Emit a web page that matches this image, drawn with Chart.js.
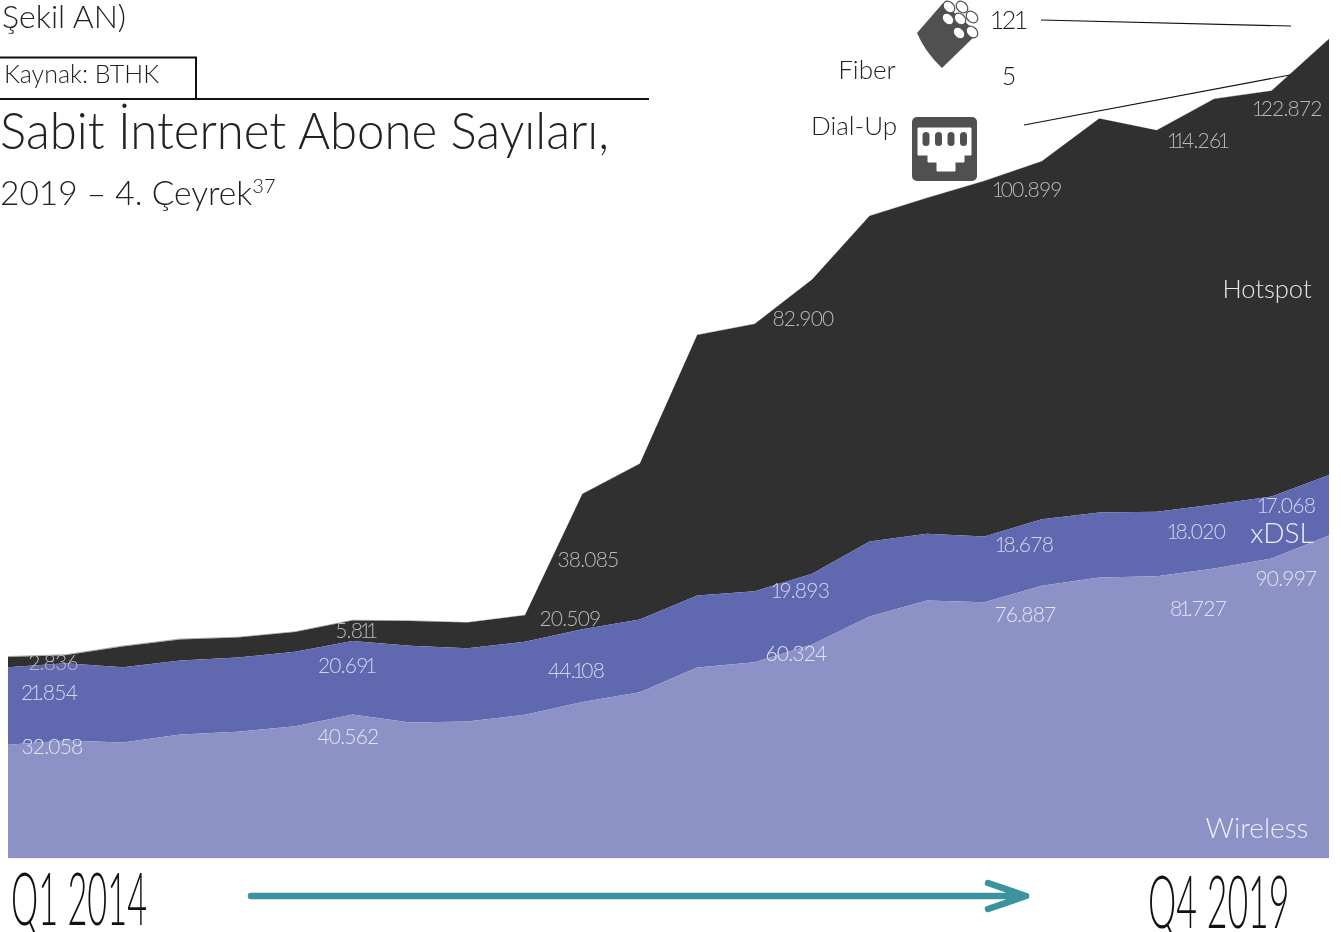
<!DOCTYPE html>
<html lang="tr">
<head>
<meta charset="utf-8">
<title>Sabit İnternet Abone Sayıları</title>
<script src="https://cdn.jsdelivr.net/npm/chart.js@4"></script>
<style>
  html, body { margin: 0; padding: 0; background: #fff; overflow: hidden; }
  #page { position: relative; width: 1341px; height: 932px; overflow: hidden; font-family: Lato, sans-serif; font-weight: 300; color: #222; }
  #area-chart { position: absolute; left: 0; top: 0; }
  #overlay { position: absolute; left: 0; top: 0; }
  .t { position: absolute; white-space: nowrap; line-height: 1; transform-origin: 0 0; }
  .c { transform: translate(-50%, -50%); }
  .period { font-size: 72px; color: #111; }
  .one { margin: 0 -2.5px; }
  sup { font-size: 60%; line-height: 0; }
</style>
</head>
<body>
<div id="page">
  <canvas id="area-chart" width="1341" height="932"></canvas>
  <svg id="overlay" width="1341" height="932" viewBox="0 0 1341 932">
    <!-- header rules -->
    <path d="M0 57.5H196V99M0 99H649" fill="none" stroke="#111" stroke-width="2"/>
    <!-- leader lines -->
    <path d="M1041 20L1291 26M1024 125L1290 75" fill="none" stroke="#111" stroke-width="1.2"/>
    <!-- fiber icon -->
    <path d="M917 33L943 3L978 33L942 68Q925 52 917 33Z" fill="#505050"/>
    <g fill="#fff" stroke="#505050" stroke-width="1.2">
      <ellipse cx="949" cy="7" rx="6.5" ry="5" transform="rotate(45 949 7)"/>
      <ellipse cx="962" cy="7" rx="6.5" ry="5" transform="rotate(45 962 7)"/>
      <ellipse cx="948" cy="19" rx="6.5" ry="5" transform="rotate(45 948 19)"/>
      <ellipse cx="960" cy="19" rx="6.5" ry="5" transform="rotate(45 960 19)"/>
      <ellipse cx="972" cy="17" rx="6.5" ry="5" transform="rotate(45 972 17)"/>
      <ellipse cx="959" cy="33" rx="6.5" ry="5" transform="rotate(45 959 33)"/>
      <ellipse cx="972" cy="32" rx="6.5" ry="5" transform="rotate(45 972 32)"/>
    </g>
    <!-- ethernet icon -->
    <rect x="912" y="117" width="65" height="64" rx="5" fill="#505050"/>
    <path d="M918 128H971V155H964V162H955V171H937V162H928V155H918Z" fill="#fff" stroke="#fff" stroke-linejoin="round"/>
    <g fill="#505050">
      <rect x="922.5" y="132" width="7" height="14" rx="3.5"/>
      <rect x="935" y="132" width="7" height="14" rx="3.5"/>
      <rect x="947.5" y="132" width="7" height="14" rx="3.5"/>
      <rect x="960" y="132" width="7" height="14" rx="3.5"/>
    </g>
    <!-- time arrow -->
    <path d="M251 896H1026M988 883L1026 896L988 909" fill="none" stroke="#3b939e" stroke-width="6.5" stroke-linecap="round" stroke-linejoin="round"/>
  </svg>
  <div id="texts"></div>
</div>
<script>
const quarters = [
  'Q1 2014', 'Q2 2014', 'Q3 2014', 'Q4 2014',
  'Q1 2015', 'Q2 2015', 'Q3 2015', 'Q4 2015',
  'Q1 2016', 'Q2 2016', 'Q3 2016', 'Q4 2016',
  'Q1 2017', 'Q2 2017', 'Q3 2017', 'Q4 2017',
  'Q1 2018', 'Q2 2018', 'Q3 2018', 'Q4 2018',
  'Q1 2019', 'Q2 2019', 'Q3 2019', 'Q4 2019'
];
const wireless = [32058, 33250, 32690, 34940, 35700, 37280, 40562, 38320, 38600, 40490, 44108, 46860, 53820, 55310, 60324, 68190, 72700, 72220, 76887, 79180, 79540, 81727, 84530, 90997];
const xdsl = [21854, 21780, 21210, 20850, 20940, 20960, 20691, 21610, 20660, 20570, 20509, 20480, 20280, 20010, 19893, 21130, 18790, 18510, 18678, 18310, 18150, 18020, 17470, 17068];
const hotspot = [2836, 2240, 5850, 5950, 5600, 5600, 5811, 7000, 7250, 7500, 38085, 43900, 73400, 75300, 82900, 91750, 94650, 100200, 100899, 111000, 107500, 114261, 114300, 122872];
const fiber = [0, 0, 0, 0, 0, 10, 15, 20, 25, 30, 35, 40, 45, 50, 55, 60, 70, 75, 85, 90, 100, 105, 115, 121];
const dialUp = [280, 260, 250, 220, 210, 190, 170, 150, 130, 110, 95, 80, 70, 60, 45, 40, 30, 25, 20, 15, 12, 10, 8, 5];

// [series, quarter index, centre x, centre y, colour]
const onDark = '#b9b9b9';
const onBlue = '#d3d6ee';
const onLight = '#e2e4f3';
const valueLabels = [
  [hotspot, 0, 53, 661, onDark], [xdsl, 0, 49, 691, onBlue], [wireless, 0, 52, 745, onLight],
  [hotspot, 6, 355, 629, onDark], [xdsl, 6, 346, 664, onBlue], [wireless, 6, 348, 735, onLight],
  [hotspot, 10, 588, 558, onDark], [xdsl, 10, 570, 617, onDark], [wireless, 10, 576, 669, onBlue],
  [hotspot, 14, 803, 317, onDark], [xdsl, 14, 801, 589, onBlue], [wireless, 14, 796, 652, onLight],
  [hotspot, 18, 1028, 188, onDark], [xdsl, 18, 1025, 543, onBlue], [wireless, 18, 1025, 613, onLight],
  [hotspot, 21, 1198, 139, onDark], [xdsl, 21, 1197, 530, onBlue], [wireless, 21, 1198, 607, onLight],
  [hotspot, 23, 1288, 107, onDark], [xdsl, 23, 1287, 504, onBlue], [wireless, 23, 1286, 577, onLight]
];

function formatValue(v) {
  return String(v).replace(/\B(?=(\d{3})+$)/g, '.');
}

// the reference's "1" is much narrower than the other digits
function tightOnes(text) {
  return text.replace(/1/g, '<span class="one">1</span>');
}

function addText(html, css, cls) {
  const el = document.createElement('div');
  el.className = 't ' + (cls || '');
  el.style.cssText = css;
  el.innerHTML = html;
  document.getElementById('texts').appendChild(el);
}

function displayTexts() {
  valueLabels.forEach(([series, i, x, y, colour]) => {
    addText(tightOnes(formatValue(series[i])), `left:${x}px;top:${y}px;font-size:21px;letter-spacing:-0.8px;color:${colour}`, 'c');
  });

  addText('Şekil AN)', 'left:2px;top:0;font-size:32px');
  addText('Kaynak: BTHK', 'left:4px;top:61px;font-size:25px');
  addText('Sabit İnternet Abone Sayıları,', 'left:0;top:103px;font-size:52px;transform:scaleX(0.945)');
  addText('2019 – 4. Çeyrek<sup>37</sup>', 'left:0;top:176px;font-size:33.5px');

  addText(tightOnes('121'), 'left:1009px;top:19px;font-size:25px', 'c');
  addText('5', 'left:1009px;top:75px;font-size:25px', 'c');
  addText('Fiber', 'left:867px;top:69px;font-size:26px', 'c');
  addText('Dial-Up', 'left:854px;top:125px;font-size:26px', 'c');

  addText('Hotspot', 'left:1267px;top:289px;font-size:25.5px;color:#e8e8e8', 'c');
  addText('xDSL', 'left:1282px;top:532px;font-size:28px;color:#eef0fa', 'c');
  addText('Wireless', 'left:1257px;top:827px;font-size:28px;color:#eef0fa', 'c');

  addText(quarters[0], 'left:11px;top:861px;transform:scaleX(0.477)', 'period');
  addText(quarters[23], 'left:1148px;top:864px;transform:scaleX(0.496)', 'period');
}

function displayChart() {
  const series = [
    { label: 'Wireless', data: wireless, backgroundColor: '#8c91c6', fill: 'origin' },
    { label: 'xDSL', data: xdsl, backgroundColor: '#6068b0', fill: '-1' },
    { label: 'Hotspot', data: hotspot, backgroundColor: '#303030', fill: '-1' },
    { label: 'Fiber', data: fiber, backgroundColor: '#999999', fill: '-1' },
    { label: 'Dial-Up', data: dialUp, backgroundColor: '#aaaaaa', fill: '-1' }
  ];

  const chartConfig = {
    type: 'line',
    data: {
      labels: quarters,
      datasets: series.map(s => ({ ...s, borderWidth: 0, pointRadius: 0, tension: 0 }))
    },
    options: {
      responsive: false,
      animation: false,
      layout: { padding: { left: 8, right: 12, top: 0, bottom: 73.5 } },
      plugins: {
        legend: { display: false },
        tooltip: { enabled: false }
      },
      scales: {
        x: { display: false, offset: false },
        y: { display: false, stacked: true, min: 0, max: 241900 }
      }
    }
  };

  const ctx = document.getElementById('area-chart').getContext('2d');
  new Chart(ctx, chartConfig);
}

displayChart();
displayTexts();
</script>
</body>
</html>
